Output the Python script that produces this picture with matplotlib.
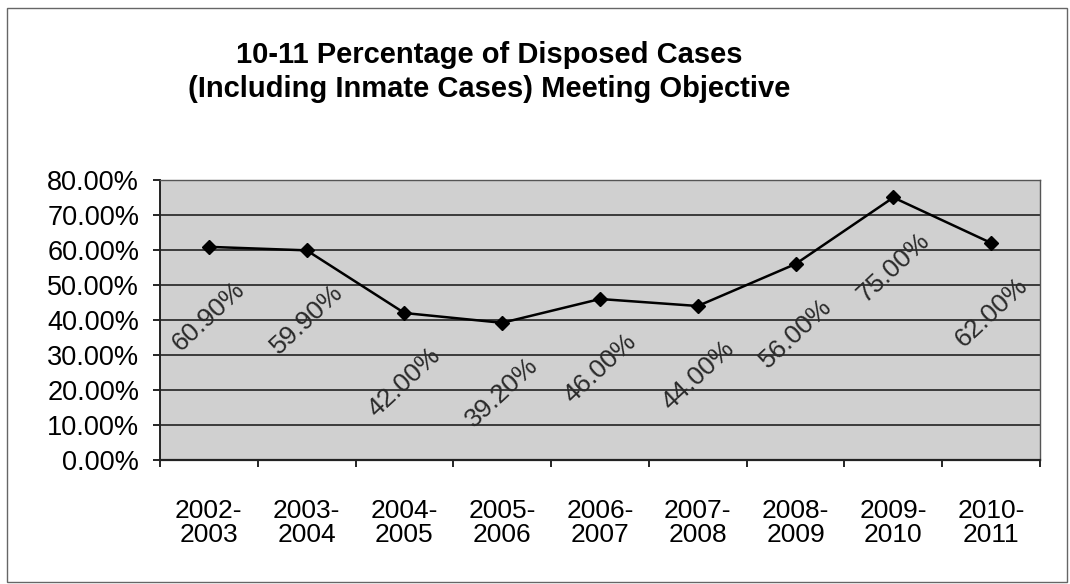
import matplotlib
matplotlib.use("Agg")
import matplotlib.pyplot as plt
from matplotlib.patches import Rectangle

periods = ["2002-\n2003", "2003-\n2004", "2004-\n2005", "2005-\n2006", "2006-\n2007",
           "2007-\n2008", "2008-\n2009", "2009-\n2010", "2010-\n2011"]
pct = [60.9, 59.9, 42.0, 39.2, 46.0, 44.0, 56.0, 75.0, 62.0]
yticks = [0, 10, 20, 30, 40, 50, 60, 70, 80]

plt.rcParams["font.family"] = ["Liberation Sans", "DejaVu Sans"]

fig = plt.figure(figsize=(10.7, 5.84), dpi=100)
fig.patches.append(Rectangle((0.007, 0.004), 0.990, 0.982, transform=fig.transFigure,
                             fill=False, edgecolor="#666666", lw=1.0))
ax = fig.add_axes([0.1495, 0.2123, 0.8225, 0.4795])
ax.set_facecolor("#d0d0d0")

x = list(range(len(pct)))
ax.plot(x, pct, "-D", color="black", lw=1.8, ms=7, zorder=3)
for xi, v in zip(x, pct):
    ax.annotate(f"{v:.2f}%", (xi, v), xytext=(0, -50), textcoords="offset points",
                rotation=43, ha="center", va="center", fontsize=19, color="#2a2a2a",
                rotation_mode="anchor")

ax.set_xlim(-0.5, len(pct) - 0.5)
ax.set_ylim(0, 80)
ax.set_yticks(yticks)
ax.set_yticklabels([f"{t:.2f}%" for t in yticks], fontsize=19.5)
ax.yaxis.grid(True, color="#3a3a3a", lw=1.4)
ax.set_axisbelow(True)
ax.set_xticks([i - 0.5 for i in range(len(pct) + 1)])
ax.set_xticklabels([])
ax.set_xticks(x, minor=True)
ax.set_xticklabels(periods, minor=True, fontsize=19, linespacing=1.0)
ax.tick_params(axis="x", which="minor", length=0, pad=28)
ax.tick_params(axis="x", which="major", length=5, direction="out", width=1.2)
ax.tick_params(axis="y", length=5, width=1.2, pad=10)
for s in ax.spines.values():
    s.set_color("#555555"); s.set_linewidth(1.0)
ax.spines["bottom"].set_color("#222222"); ax.spines["bottom"].set_linewidth(1.6)
ax.spines["left"].set_color("#222222"); ax.spines["left"].set_linewidth(1.4)

fig.text(0.457, 0.877, "10-11 Percentage of Disposed Cases\n(Including Inmate Cases) Meeting Objective",
         ha="center", va="center", fontsize=21, fontweight="bold", linespacing=1.27)

fig.savefig("out.png", dpi=100)
